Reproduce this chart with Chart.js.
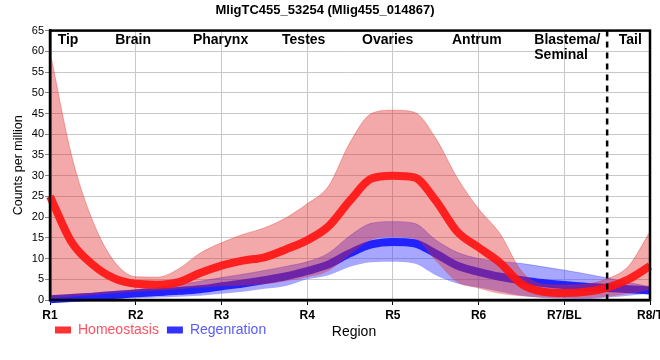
<!DOCTYPE html>
<html>
<head>
<meta charset="utf-8">
<script src="https://cdn.jsdelivr.net/npm/chart.js@4"></script>
<style>
  html, body { margin: 0; padding: 0; background: #fff; }
</style>
</head>
<body>
<canvas id="geneChart" width="660" height="360"></canvas>
<script>
// positions along the body axis (0 = R1 ... 7 = R8/T)
const regionPos = [0, 0.25, 0.5, 0.75, 1, 1.25, 1.5, 1.75, 2, 2.25, 2.5, 2.75, 3, 3.25, 3.5,
    3.75, 4, 4.25, 4.5, 4.75, 5, 5.25, 5.5, 5.75, 6, 6.25, 6.5, 6.75, 7];
const tickLabels = ['R1', 'R2', 'R3', 'R4', 'R5', 'R6', 'R7/BL', 'R8/T'];
const regionNames = [['Tip'], ['Brain'], ['Pharynx'], ['Testes'], ['Ovaries'], ['Antrum'], ['Blastema/', 'Seminal'], ['Tail']];
const tailStart = 6.5;

// Homeostasis: mean and band
const homMean = [25, 14, 8.5, 5.2, 3.9, 3.7, 4.3, 6.5, 8.3, 9.5, 10.3, 12.2, 14.4, 17.8, 24,
    29.3, 30, 29.6, 24, 16.5, 12.7, 9, 3.9, 2.0, 1.7, 2.0, 3.0, 5.0, 8.2];
const homHigh = [60, 35, 19, 9.3, 5.6, 5.5, 7.5, 11.3, 13.8, 15.8, 17.4, 19.8, 23.2, 27.5, 38,
    45, 45.8, 45.3, 39, 29.5, 22, 16, 7, 3.8, 3.6, 3.8, 5.1, 8.2, 16.5];
const homLow = [0.4, 0.8, 1.2, 1.6, 2.0, 2.3, 2.6, 3.0, 3.3, 3.5, 3.8, 4.5, 5.5, 7.0, 11,
    14.5, 15.2, 14.8, 9.5, 4.3, 2.8, 1.5, 0.9, 0.6, 0.5, 0.5, 0.8, 1.5, 2.5];

// Regeneration: mean and band
const regMean = [0.2, 0.5, 0.8, 1.2, 1.6, 1.9, 2.2, 2.6, 3.3, 4.0, 4.8, 5.7, 7.0, 8.6, 11.3,
    13.4, 14, 13.7, 11.2, 8.3, 6.8, 5.6, 4.8, 4.1, 3.6, 3.2, 2.9, 2.6, 2.3];
const regHigh = [0.8, 1.2, 1.6, 2.0, 2.5, 3.0, 3.7, 4.5, 5.4, 6.2, 7.1, 8.1, 9.2, 11.3, 15.5,
    18.5, 18.9, 18.5, 14.5, 11.5, 10.0, 9.3, 8.8, 8.0, 7.2, 6.3, 5.3, 4.2, 3.2];
const regLow = [0, 0, 0.1, 0.2, 0.4, 0.6, 0.8, 1.0, 1.5, 2.0, 2.7, 3.4, 5.0, 6.0, 8.0,
    9.1, 9.2, 8.8, 6.0, 4.0, 3.0, 2.0, 1.0, 0.5, 0.3, 0.2, 0.6, 1.0, 1.6];

const sans = '"Liberation Sans", Arial, sans-serif';

const toPoints = vals => vals.map((v, i) => ({ x: regionPos[i], y: v }));

const lineBase = {
    pointRadius: 0,
    cubicInterpolationMode: 'monotone',
    clip: false
};

const regionDecor = {
    id: 'regionDecor',
    afterLayout(chart) {
        // legend sits a bit higher, level with the axis title
        const lg = chart.legend;
        if (lg) {
            lg.top -= 6; lg.bottom -= 6;
            lg.left -= 3; lg.right -= 3;
        }
    },
    afterDatasetsDraw(chart) {
        const { ctx, chartArea: a, scales: { x } } = chart;
        ctx.save();
        ctx.strokeStyle = '#000';
        ctx.lineWidth = 2.5;
        const bx = x.getPixelForValue(tailStart);
        ctx.setLineDash([6, 5]);
        ctx.beginPath();
        ctx.moveTo(bx, a.top);
        ctx.lineTo(bx, a.bottom);
        ctx.stroke();
        ctx.setLineDash([]);
        ctx.strokeRect(a.left, a.top, a.right - a.left, a.bottom - a.top);

        const namePos = [0.21, 0.97, 1.99, 2.96, 3.94, 4.98, 5.65, 6.77];
        ctx.fillStyle = '#000';
        ctx.font = 'bold 14px ' + sans;
        ctx.textBaseline = 'middle';
        regionNames.forEach((lines, i) => {
            ctx.textAlign = lines.length > 1 ? 'left' : 'center';
            lines.forEach((t, j) => {
                ctx.fillText(t, x.getPixelForValue(namePos[i]), a.top + 10 + j * 15);
            });
        });

        ctx.font = '14px ' + sans;
        ctx.textAlign = 'center';
        ctx.fillText('Region', (a.left + a.right) / 2 + 4, a.bottom + 32);
        ctx.restore();
    }
};

const geneChart = document.getElementById('geneChart');
if (geneChart) {
    const chart = new Chart(geneChart, {
        type: 'line',
        data: {
            datasets: [
                { ...lineBase, label: 'regLow', data: toPoints(regLow), borderWidth: 0, order: 6 },
                {
                    ...lineBase, label: 'regHigh', data: toPoints(regHigh), fill: '-1',
                    backgroundColor: 'rgba(60, 60, 255, 0.45)', borderColor: 'rgba(60, 60, 255, 0.5)',
                    borderWidth: 0.8, order: 5
                },
                { ...lineBase, label: 'Regenration', data: toPoints(regMean), borderColor: '#2222ff', borderWidth: 8, order: 4 },
                { ...lineBase, label: 'homLow', data: toPoints(homLow), borderWidth: 0, order: 3 },
                {
                    ...lineBase, label: 'homHigh', data: toPoints(homHigh), fill: '-1',
                    backgroundColor: 'rgba(225, 40, 40, 0.4)', borderColor: 'rgba(225, 40, 40, 0.45)',
                    borderWidth: 0.8, order: 2
                },
                { ...lineBase, label: 'Homeostasis', data: toPoints(homMean), borderColor: 'rgba(255, 20, 20, 0.92)', borderWidth: 8, order: 1 }
            ]
        },
        options: {
            responsive: false,
            animation: false,
            layout: {
                padding: { left: 0, right: 10, top: 0, bottom: 7 }
            },
            plugins: {
                title: {
                    display: true,
                    text: 'MligTC455_53254 (Mlig455_014867)',
                    color: '#000',
                    font: { family: sans, size: 13, weight: 'bold' },
                    padding: { top: 3, bottom: 12 }
                },
                legend: {
                    display: true,
                    position: 'bottom',
                    align: 'start',
                    fullSize: false,
                    labels: {
                        boxWidth: 16,
                        boxHeight: 7,
                        padding: 8,
                        font: { family: sans, size: 14 },
                        generateLabels: () => [
                            { text: 'Homeostasis', fillStyle: '#ff3333', strokeStyle: '#ff3333', lineWidth: 0, fontColor: '#ff5060', hidden: false, datasetIndex: 5 },
                            { text: 'Regenration', fillStyle: '#3333ff', strokeStyle: '#3333ff', lineWidth: 0, fontColor: '#5a5aff', hidden: false, datasetIndex: 2 }
                        ]
                    }
                },
                tooltip: { enabled: false }
            },
            scales: {
                x: {
                    type: 'linear',
                    min: 0,
                    max: 7,
                    afterFit: s => { s.height = 21; s.paddingLeft = 0; s.paddingRight = 0; },
                    grid: { color: '#c8c8c8', tickLength: 5, tickColor: '#000' },
                    border: { color: '#000', width: 2.5 },
                    ticks: {
                        stepSize: 1,
                        autoSkip: false,
                        maxRotation: 0,
                        color: '#000',
                        font: { family: sans, size: 12, weight: 'bold' },
                        callback: v => tickLabels[v]
                    }
                },
                y: {
                    min: 0,
                    max: 65,
                    afterFit: s => { s.width = 50; },
                    grid: { color: '#c8c8c8', tickLength: 5, tickColor: '#888' },
                    border: { color: '#000', width: 2.5 },
                    ticks: {
                        stepSize: 5,
                        padding: 1,
                        color: '#000',
                        font: { family: sans, size: 11 }
                    },
                    title: {
                        display: true,
                        text: 'Counts per million',
                        color: '#000',
                        font: { family: sans, size: 12.5 },
                        padding: { top: 11, bottom: 0 }
                    }
                }
            }
        },
        plugins: [regionDecor]
    });
}
</script>
</body>
</html>
